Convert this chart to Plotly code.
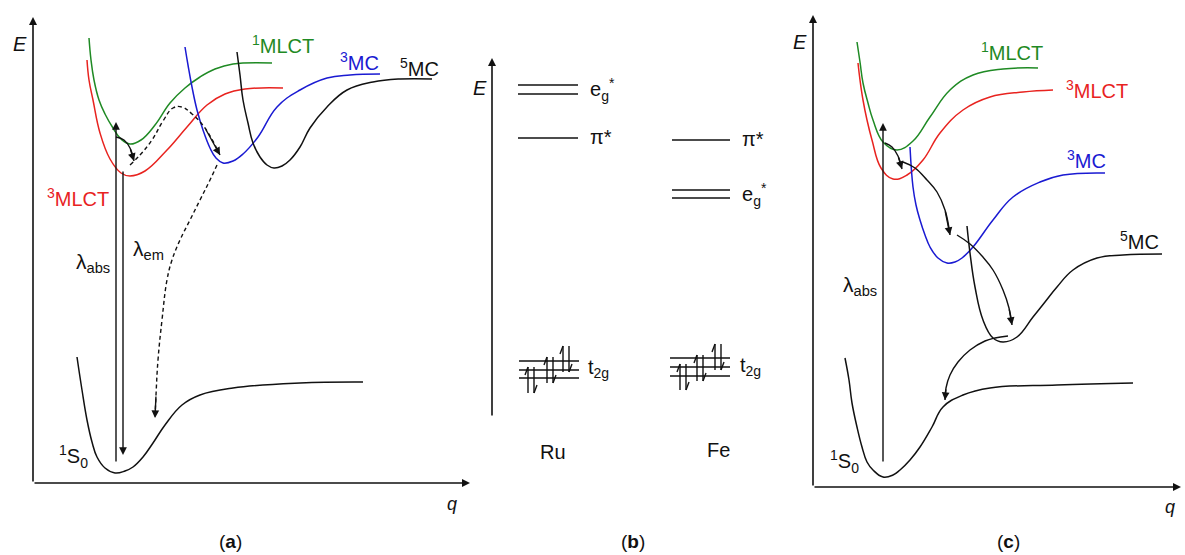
import plotly.graph_objects as go

# ---------------- data (page-pixel units; y grows downward) -------------
# Panel (a)
a_S0_q = [77, 82, 87, 92, 97, 105, 115, 125, 133, 143, 153, 165, 182, 200, 233, 300, 363]
a_S0_E = [357, 390, 420, 442, 457, 468, 473, 471, 467, 457, 443, 425, 405, 395, 388, 383, 382]
a_1MLCT_q = [89, 91, 94, 99, 105, 113, 121, 130, 141, 155, 170, 185, 200, 215, 233, 272]
a_1MLCT_E = [38, 60, 80, 100, 114, 128, 139, 144, 140, 125, 103, 88, 77, 69, 64, 63]
a_3MLCT_q = [87, 89, 93, 100, 110, 121, 130, 145, 167, 187, 207, 225, 245, 283]
a_3MLCT_E = [60, 80, 100, 133, 159, 173, 176, 171, 150, 127, 105, 94, 89, 88]
a_3MC_q = [185, 188, 192, 197, 203, 210, 216, 223, 233, 243, 258, 277, 300, 327, 350, 380]
a_3MC_E = [47, 65, 87, 110, 130, 148, 158, 163, 161, 154, 137, 107, 90, 78, 75, 74]
a_5MC_q = [237, 240, 243, 248, 253, 260, 267, 274, 282, 290, 300, 310, 327, 347, 373, 400, 432]
a_5MC_E = [52, 75, 100, 123, 143, 157, 165, 168, 166, 160, 147, 128, 107, 90, 82, 79, 79]
a_isc_q = [116, 124, 130, 134]          # solid curved arrow 1MLCT -> 3MLCT
a_isc_E = [137, 140, 148, 161]
a_dash1_q = [130, 140, 152, 163, 173, 182, 192, 205, 220]   # dashed 3MLCT -> 3MC
a_dash1_E = [165, 155, 140, 121, 108, 107, 114, 128, 155]
a_dash2_q = [217, 210, 200, 190, 180, 172, 167, 162, 158, 156, 155]  # dashed 3MC -> 1S0
a_dash2_E = [165, 180, 200, 220, 240, 260, 280, 320, 360, 395, 418]
a_abs_q, a_abs_E = [116, 116], [463, 122]
a_em_q, a_em_E = [123, 123], [170, 455]

# Panel (b)
ru_eg_E = [85, 94]
ru_pi_E = [138]
fe_pi_E = [140]
fe_eg_E = [190, 198]
ru_t2g_E = [361, 370, 378]
fe_t2g_E = [358, 367, 376]
ru_lvl_x = [518, 578]
fe_lvl_x = [672, 730]
ru_t2g_x = [519, 579]
fe_t2g_x = [670, 730]
ru_e_x = [531, 550, 566]
ru_e_E = [380, 370, 359]
fe_e_x = [683, 700, 718]
fe_e_E = [377, 368, 357]

# Panel (c)
c_S0_q = [845, 849, 852, 857, 862, 867, 873, 883, 893, 900, 910, 920, 932, 943, 963, 990, 1057, 1133]
c_S0_E = [358, 380, 403, 427, 447, 462, 470, 477, 475, 470, 460, 447, 427, 407, 395, 388, 385, 383]
c_1MLCT_q = [857, 860, 863, 868, 873, 883, 897, 913, 930, 950, 973, 1003, 1038]
c_1MLCT_E = [42, 62, 83, 103, 120, 142, 150, 141, 117, 90, 75, 69, 68]
c_3MLCT_q = [858, 860, 863, 867, 872, 881, 893, 907, 923, 940, 963, 990, 1023, 1053]
c_3MLCT_E = [63, 80, 100, 120, 140, 168, 179, 175, 160, 133, 110, 97, 92, 90]
c_3MC_q = [910, 913, 916, 920, 925, 930, 938, 947, 955, 962, 973, 993, 1013, 1040, 1063, 1105]
c_3MC_E = [147, 187, 205, 220, 235, 247, 258, 263, 262, 258, 247, 220, 197, 182, 175, 173]
c_5MC_q = [967, 970, 975, 983, 993, 1003, 1017, 1033, 1045, 1057, 1073, 1097, 1123, 1162]
c_5MC_E = [226, 253, 287, 320, 338, 342, 337, 317, 302, 287, 270, 258, 255, 254]
c_arc1_q = [885, 892, 898, 902]
c_arc1_E = [143, 147, 156, 169]
c_arc2_q = [903, 915, 927, 937, 945, 950]
c_arc2_E = [162, 168, 180, 192, 210, 235]
c_arc3_q = [957, 970, 982, 993, 1003, 1009, 1012]
c_arc3_E = [235, 244, 256, 270, 290, 308, 325]
c_arc4_q = [1008, 995, 985, 970, 958, 950, 946, 945]
c_arc4_E = [336, 338, 341, 350, 362, 375, 388, 400]
c_abs_q, c_abs_E = [883, 883], [463, 123]

# axes of the three panels: (x0, y0) corner, ends
a_axes = dict(x0=33, y0=483, xend=470, ytop=17)
b_axis = dict(x=492, ybot=417, ytop=58)
c_axes = dict(x0=813, y0=487, xend=1181, ytop=15)

GREEN, RED, BLUE, BLACK = "#1f8a24", "#e8231f", "#1a1ad2", "#111111"
FONT = "Liberation Sans, Arial, sans-serif"

fig = go.Figure()


def curve(xs, ys, color, width=1.5, dash=None, spline=True):
    fig.add_trace(go.Scatter(
        x=xs, y=ys, mode="lines", hoverinfo="skip", showlegend=False,
        line=dict(color=color, width=width, dash=dash,
                  shape="spline" if spline else "linear", smoothing=1.2)))


annotations = []


def arrow(x_tail, y_tail, x_head, y_head, width=1.4, size=1.0, head=2):
    annotations.append(dict(
        x=x_head, y=y_head, ax=x_tail, ay=y_tail, xref="x", yref="y",
        axref="x", ayref="y", text="", showarrow=True, arrowhead=head,
        arrowsize=size, arrowwidth=width, arrowcolor=BLACK))


def label(x, y, text, size=20, color=BLACK, italic=False, anchor="center"):
    if italic:
        text = "<i>" + text + "</i>"
    annotations.append(dict(
        x=x, y=y, xref="x", yref="y", text=text, showarrow=False,
        xanchor=anchor, yanchor="middle",
        font=dict(family=FONT, size=size, color=color)))


def arrow_curve(xs, ys, dash=None):
    curve(xs, ys, BLACK, width=1.4, dash=dash)
    arrow(xs[-2], ys[-2], xs[-1], ys[-1], width=1.4, size=1.1)


# ---------------- panel (a) ----------------
arrow(a_axes["x0"], a_axes["y0"], a_axes["x0"], a_axes["ytop"], width=1.6)
arrow(a_axes["x0"], a_axes["y0"], a_axes["xend"], a_axes["y0"], width=1.6)
curve(a_S0_q, a_S0_E, BLACK)
curve(a_1MLCT_q, a_1MLCT_E, GREEN)
curve(a_3MLCT_q, a_3MLCT_E, RED)
curve(a_3MC_q, a_3MC_E, BLUE)
curve(a_5MC_q, a_5MC_E, BLACK)
arrow_curve(a_isc_q, a_isc_E)
arrow_curve(a_dash1_q, a_dash1_E, dash="4px,3px")
arrow_curve(a_dash2_q, a_dash2_E, dash="4px,3px")
arrow(a_abs_q[0], a_abs_E[0], a_abs_q[1], a_abs_E[1], width=1.4, size=1.1)
arrow(a_em_q[0], a_em_E[0], a_em_q[1], a_em_E[1], width=1.4, size=1.1)

label(20, 44, "E", italic=True)
label(283, 44, "<sup>1</sup>MLCT", color=GREEN)
label(359, 61, "<sup>3</sup>MC", color=BLUE)
label(419, 67, "<sup>5</sup>MC")
label(78, 197, "<sup>3</sup>MLCT", color=RED)
label(93, 263, "λ<sub>abs</sub>", size=21)
label(148, 250, "λ<sub>em</sub>", size=21)
label(73, 456, "<sup>1</sup>S<sub>0</sub>")
label(452, 504, "q", size=18, italic=True)
label(230, 541, "(<b>a</b>)", size=19)

# ---------------- panel (b) ----------------
arrow(b_axis["x"], b_axis["ybot"], b_axis["x"], b_axis["ytop"], width=1.6)
label(480, 88, "E", italic=True)
seg_x, seg_y = [], []
for E in ru_eg_E + ru_pi_E:
    seg_x += ru_lvl_x + [None]
    seg_y += [E, E, None]
for E in fe_pi_E + fe_eg_E:
    seg_x += fe_lvl_x + [None]
    seg_y += [E, E, None]
for E in ru_t2g_E:
    seg_x += ru_t2g_x + [None]
    seg_y += [E, E, None]
for E in fe_t2g_E:
    seg_x += fe_t2g_x + [None]
    seg_y += [E, E, None]
curve(seg_x, seg_y, BLACK, width=1.6, spline=False)

# electron pairs (up / down half-arrows)
el_x, el_y = [], []
half = 13
for xs, ys in ((ru_e_x, ru_e_E), (fe_e_x, fe_e_E)):
    for xc, yc in zip(xs, ys):
        xu, xd = xc - 3, xc + 3
        el_x += [xu, xu, None, xu, xu - 3, None]
        el_y += [yc + half, yc - half, None, yc - half, yc - half + 8, None]
        el_x += [xd, xd, None, xd, xd + 3, None]
        el_y += [yc - half, yc + half, None, yc + half, yc + half - 8, None]
curve(el_x, el_y, BLACK, width=1.4, spline=False)

label(588, 89, "e<sub>g</sub><sup>*</sup>", anchor="left")
label(588, 137, "π*", anchor="left")
label(740, 139, "π*", anchor="left")
label(740, 194, "e<sub>g</sub><sup>*</sup>", anchor="left")
label(586, 368, "t<sub>2g</sub>", anchor="left")
label(738, 366, "t<sub>2g</sub>", anchor="left")
label(553, 452, "Ru")
label(718, 450, "Fe")
label(633, 541, "(<b>b</b>)", size=19)

# ---------------- panel (c) ----------------
arrow(c_axes["x0"], c_axes["y0"], c_axes["x0"], c_axes["ytop"], width=1.6)
arrow(c_axes["x0"], c_axes["y0"], c_axes["xend"], c_axes["y0"], width=1.6)
curve(c_S0_q, c_S0_E, BLACK)
curve(c_1MLCT_q, c_1MLCT_E, GREEN)
curve(c_3MLCT_q, c_3MLCT_E, RED)
curve(c_3MC_q, c_3MC_E, BLUE)
curve(c_5MC_q, c_5MC_E, BLACK)
arrow_curve(c_arc1_q, c_arc1_E)
arrow_curve(c_arc2_q, c_arc2_E)
arrow_curve(c_arc3_q, c_arc3_E)
arrow_curve(c_arc4_q, c_arc4_E)
arrow(c_abs_q[0], c_abs_E[0], c_abs_q[1], c_abs_E[1], width=1.4, size=1.1)

label(800, 42, "E", italic=True)
label(1012, 51, "<sup>1</sup>MLCT", color=GREEN)
label(1097, 89, "<sup>3</sup>MLCT", color=RED)
label(1086, 159, "<sup>3</sup>MC", color=BLUE)
label(1139, 240, "<sup>5</sup>MC")
label(860, 286, "λ<sub>abs</sub>", size=21)
label(844, 461, "<sup>1</sup>S<sub>0</sub>")
label(1170, 507, "q", size=18, italic=True)
label(1008, 541, "(<b>c</b>)", size=19)

fig.update_layout(
    width=1185, height=555, margin=dict(l=0, r=0, t=0, b=0),
    paper_bgcolor="white", plot_bgcolor="white",
    xaxis=dict(range=[0, 1185], visible=False, fixedrange=True),
    yaxis=dict(range=[555, 0], visible=False, fixedrange=True),
    annotations=annotations, showlegend=False,
)
fig.write_html(
    "out.html", config={"displayModeBar": False},
    post_script="document.body.style.margin='0px';document.body.style.overflow='hidden';",
)
